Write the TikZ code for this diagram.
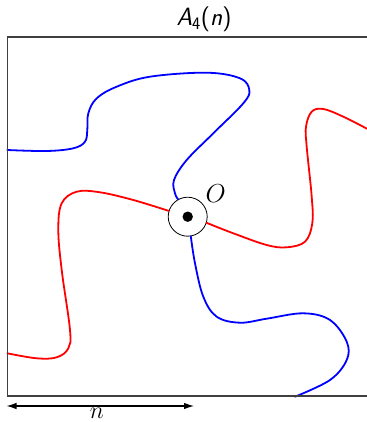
\documentclass[tikz,border=0pt]{standalone}
\usepackage{fix-cm}
\usetikzlibrary{arrows.meta}
\begin{document}
\begin{tikzpicture}[x=1pt,y=-1pt,
  curve/.style={line width=1.8pt,line cap=round},
  bluecurve/.style={curve,draw={rgb,255:red,0;green,0;blue,255}},
  redcurve/.style={curve,draw={rgb,255:red,255;green,0;blue,0}},
  frame/.style={draw=black!75,line width=1.2pt},
  origin/.style={circle,draw=black,line width=0.8pt,fill=white,minimum size=39pt,inner sep=0pt},
  lbl/.style={inner sep=0pt,font=\fontsize{24}{28}\selectfont}]
\useasboundingbox (0,0) rectangle (366,422);
% centre
\node[origin] (O) at (187.7,216.7) {};
\fill (O.center) circle (5.2pt);
\node[inner sep=0pt,anchor=base west,font=\fontsize{26}{30}\selectfont] (Olbl) at (205.5,202.5) {$O$};
% curves
\draw[bluecurve] plot[smooth,tension=0.6] coordinates {(O.119) (175,193.3) (174,180) (186.7,160) (213.3,133.3) (243.3,103.3) (249.3,90) (240,78.3) (206.7,72.7) (150,76.7) (116.7,86.7) (96.7,98.3) (88.3,113.3) (87.3,130) (85,141.7) (73.3,148.3) (46.7,151) (7.3,150)};
\draw[redcurve] plot[smooth,tension=0.6] coordinates {(O.-18.6) (233.3,233.3) (266.7,245) (286.7,247.3) (305,241.7) (312.3,223.3) (311.7,196.7) (306.7,146.7) (306,126.7) (311.7,111.7) (323.3,109) (343.3,116.7) (370,130.3)};
\draw[bluecurve] plot[smooth,tension=0.6] coordinates {(O.-81) (195,263.3) (203.3,296.7) (216.7,316.7) (240,322.7) (266.7,318.7) (303.3,313.3) (330,320) (346.7,341.7) (346.7,360) (330,380) (295,396.7)};
\draw[redcurve] plot[smooth,tension=0.6] coordinates {(O.163.6) (133.3,200) (100,192.3) (76.7,191.7) (61.7,203.3) (58.3,230) (61.7,270) (70,330) (68.3,348.3) (56.7,357.3) (36.7,358.3) (7.3,353.3)};
% frame
\draw[frame] (7.5,37) rectangle (380,396);
\node[inner sep=0pt,anchor=base,font=\fontsize{25}{30}\selectfont\sffamily] (title) at (204,25.5) {\textit{A}\textsubscript{4}(\textit{n})};
% scale arrow
\coordinate (a1) at (6.5,406);
\coordinate (a2) at (194,406);
\draw[line width=1.1pt,{Latex[length=10pt,width=6.5pt]}-{Latex[length=10pt,width=6.5pt]}] (a1) -- (a2);
\node[lbl,anchor=base] (nlbl) at (97,418.5) {$n$};
\end{tikzpicture}
\end{document}
